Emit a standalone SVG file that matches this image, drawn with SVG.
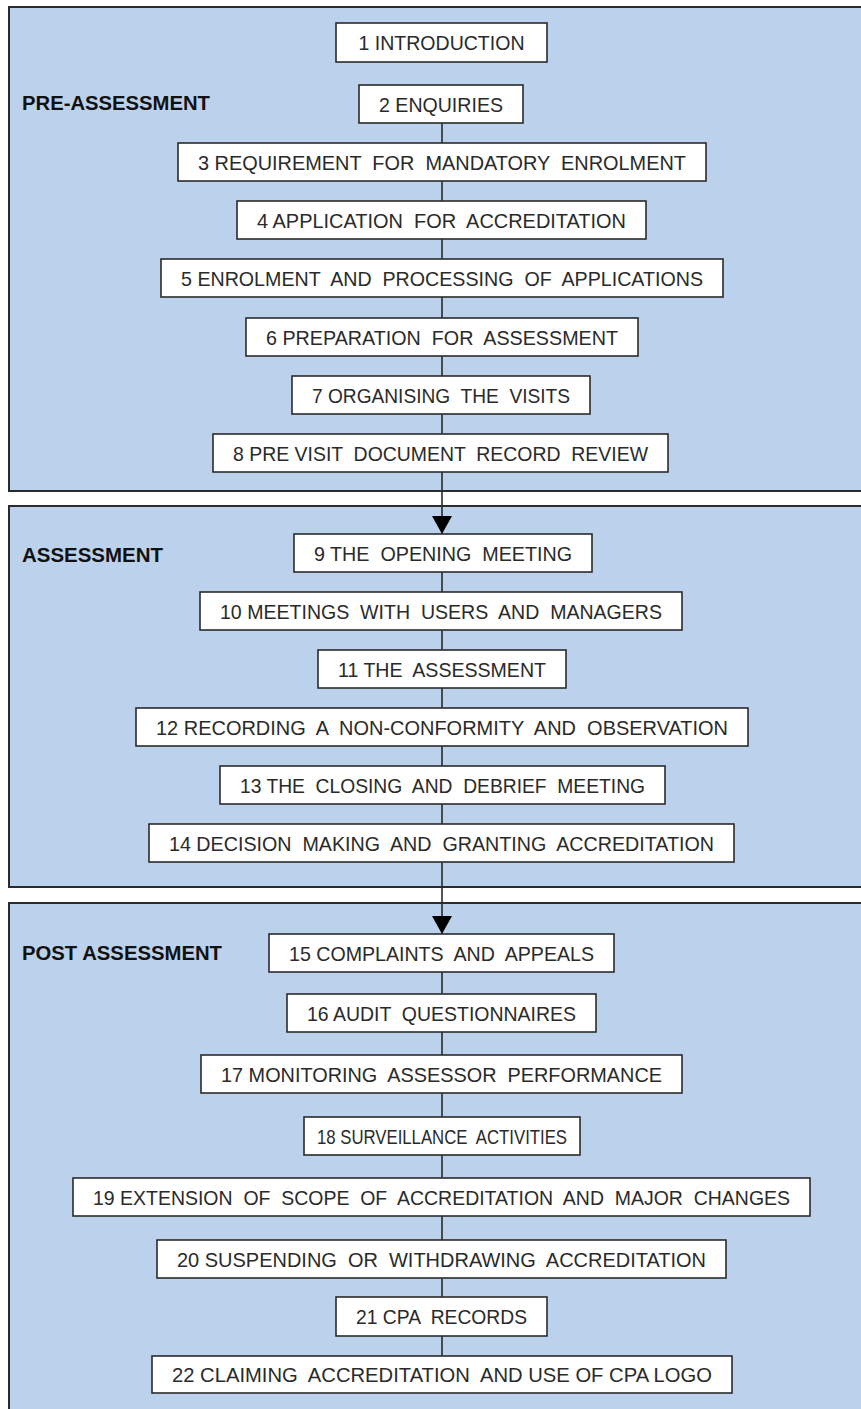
<svg xmlns="http://www.w3.org/2000/svg" width="861" height="1409" viewBox="0 0 861 1409">
  <defs>
    <style>
      .panel { fill: #bcd2ec; stroke: #2b2b2b; stroke-width: 2; }
      .box { fill: #ffffff; stroke: #2b2b2b; stroke-width: 1.6; }
      .lbl { font-family: "Liberation Sans", Arial, sans-serif; font-size: 21px; fill: #2a2a2a; text-anchor: middle; white-space: pre; }
      .sec { font-family: "Liberation Sans", Arial, sans-serif; font-size: 20px; font-weight: bold; fill: #111111; }
      .link { stroke: #2b2b2b; stroke-width: 1.6; fill: none; }
    </style>
    <marker id="arrow" markerWidth="18" markerHeight="20" refX="18" refY="10" orient="auto" markerUnits="userSpaceOnUse" viewBox="0 0 18 20">
      <path d="M0,0 L18,10 L0,20 Z" fill="#000000"/>
    </marker>
  </defs>

  <rect width="861" height="1409" fill="#ffffff"/>

  <!-- stage panels -->
  <g id="panels">
    <rect class="panel" x="9" y="7" width="870" height="484"/>
    <rect class="panel" x="9" y="506" width="870" height="381"/>
    <rect class="panel" x="9" y="903" width="870" height="520"/>
    <text class="sec" x="22" y="110" textLength="188" lengthAdjust="spacingAndGlyphs">PRE-ASSESSMENT</text>
    <text class="sec" x="22" y="562" textLength="141" lengthAdjust="spacingAndGlyphs">ASSESSMENT</text>
    <text class="sec" x="22" y="960" textLength="200" lengthAdjust="spacingAndGlyphs">POST ASSESSMENT</text>
  </g>

  <!-- vertical flow connectors -->
  <g id="connectors">
    <line class="link" x1="442" y1="123" x2="442" y2="472"/>
    <line class="link" x1="442" y1="472" x2="442" y2="534" marker-end="url(#arrow)"/>
    <line class="link" x1="442" y1="572" x2="442" y2="862"/>
    <line class="link" x1="442" y1="862" x2="442" y2="934" marker-end="url(#arrow)"/>
    <line class="link" x1="442" y1="972" x2="442" y2="1356"/>
  </g>

  <g id="n1"><rect class="box" x="336" y="23" width="211" height="39"/><text class="lbl" x="441.5" y="50" textLength="166" lengthAdjust="spacingAndGlyphs">1 INTRODUCTION</text></g>
  <g id="n2"><rect class="box" x="359" y="85" width="164" height="38"/><text class="lbl" x="441" y="112" textLength="124" lengthAdjust="spacingAndGlyphs">2 ENQUIRIES</text></g>
  <g id="n3"><rect class="box" x="178" y="143" width="528" height="38"/><text class="lbl" x="442" y="170" textLength="488" lengthAdjust="spacingAndGlyphs">3 REQUIREMENT  FOR  MANDATORY  ENROLMENT</text></g>
  <g id="n4"><rect class="box" x="237" y="201" width="409" height="38"/><text class="lbl" x="441.5" y="228" textLength="369" lengthAdjust="spacingAndGlyphs">4 APPLICATION  FOR  ACCREDITATION</text></g>
  <g id="n5"><rect class="box" x="161" y="259" width="562" height="38"/><text class="lbl" x="442" y="286" textLength="522" lengthAdjust="spacingAndGlyphs">5 ENROLMENT  AND  PROCESSING  OF  APPLICATIONS</text></g>
  <g id="n6"><rect class="box" x="246" y="318" width="392" height="38"/><text class="lbl" x="442" y="345" textLength="352" lengthAdjust="spacingAndGlyphs">6 PREPARATION  FOR  ASSESSMENT</text></g>
  <g id="n7"><rect class="box" x="292" y="376" width="298" height="38"/><text class="lbl" x="441" y="403" textLength="258" lengthAdjust="spacingAndGlyphs">7 ORGANISING  THE  VISITS</text></g>
  <g id="n8"><rect class="box" x="213" y="434" width="455" height="38"/><text class="lbl" x="440.5" y="461" textLength="415" lengthAdjust="spacingAndGlyphs">8 PRE VISIT  DOCUMENT  RECORD  REVIEW</text></g>

  <g id="n9"><rect class="box" x="294" y="534" width="298" height="38"/><text class="lbl" x="443" y="561" textLength="258" lengthAdjust="spacingAndGlyphs">9 THE  OPENING  MEETING</text></g>
  <g id="n10"><rect class="box" x="200" y="592" width="482" height="38"/><text class="lbl" x="441" y="619" textLength="442" lengthAdjust="spacingAndGlyphs">10 MEETINGS  WITH  USERS  AND  MANAGERS</text></g>
  <g id="n11"><rect class="box" x="318" y="650" width="248" height="38"/><text class="lbl" x="442" y="677" textLength="208" lengthAdjust="spacingAndGlyphs">11 THE  ASSESSMENT</text></g>
  <g id="n12"><rect class="box" x="136" y="708" width="612" height="38"/><text class="lbl" x="442" y="735" textLength="572" lengthAdjust="spacingAndGlyphs">12 RECORDING  A  NON-CONFORMITY  AND  OBSERVATION</text></g>
  <g id="n13"><rect class="box" x="220" y="766" width="445" height="38"/><text class="lbl" x="442.5" y="793" textLength="405" lengthAdjust="spacingAndGlyphs">13 THE  CLOSING  AND  DEBRIEF  MEETING</text></g>
  <g id="n14"><rect class="box" x="149" y="824" width="585" height="38"/><text class="lbl" x="441.5" y="851" textLength="545" lengthAdjust="spacingAndGlyphs">14 DECISION  MAKING  AND  GRANTING  ACCREDITATION</text></g>

  <g id="n15"><rect class="box" x="269" y="934" width="345" height="38"/><text class="lbl" x="441.5" y="961" textLength="305" lengthAdjust="spacingAndGlyphs">15 COMPLAINTS  AND  APPEALS</text></g>
  <g id="n16"><rect class="box" x="287" y="994" width="309" height="38"/><text class="lbl" x="441.5" y="1021" textLength="269" lengthAdjust="spacingAndGlyphs">16 AUDIT  QUESTIONNAIRES</text></g>
  <g id="n17"><rect class="box" x="201" y="1055" width="481" height="38"/><text class="lbl" x="441.5" y="1082" textLength="441" lengthAdjust="spacingAndGlyphs">17 MONITORING  ASSESSOR  PERFORMANCE</text></g>
  <g id="n18"><rect class="box" x="304" y="1117" width="276" height="38"/><text class="lbl" x="442" y="1144" textLength="250" lengthAdjust="spacingAndGlyphs">18 SURVEILLANCE  ACTIVITIES</text></g>
  <g id="n19"><rect class="box" x="73" y="1178" width="737" height="38"/><text class="lbl" x="441.5" y="1205" textLength="697" lengthAdjust="spacingAndGlyphs">19 EXTENSION  OF  SCOPE  OF  ACCREDITATION  AND  MAJOR  CHANGES</text></g>
  <g id="n20"><rect class="box" x="157" y="1240" width="569" height="38"/><text class="lbl" x="441.5" y="1267" textLength="529" lengthAdjust="spacingAndGlyphs">20 SUSPENDING  OR  WITHDRAWING  ACCREDITATION</text></g>
  <g id="n21"><rect class="box" x="336" y="1297" width="211" height="39"/><text class="lbl" x="441.5" y="1324" textLength="171" lengthAdjust="spacingAndGlyphs">21 CPA  RECORDS</text></g>
  <g id="n22"><rect class="box" x="152" y="1356" width="580" height="37"/><text class="lbl" x="442" y="1382" textLength="540" lengthAdjust="spacingAndGlyphs">22 CLAIMING  ACCREDITATION  AND USE OF CPA LOGO</text></g>
</svg>
